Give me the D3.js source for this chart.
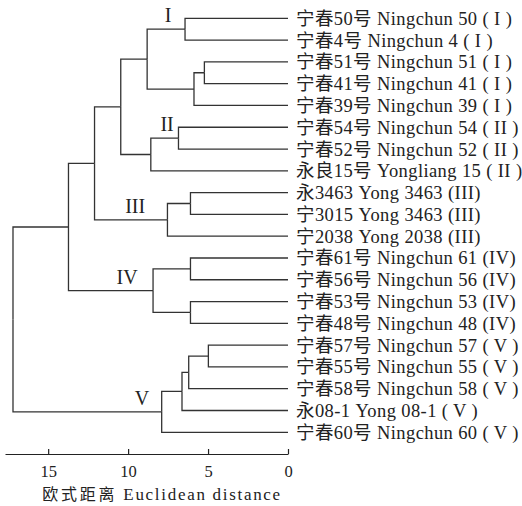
<!DOCTYPE html>
<html>
<head>
<meta charset="utf-8">
<script src="https://cdnjs.cloudflare.com/ajax/libs/d3/7.8.5/d3.min.js"></script>
<style>
  body { margin: 0; background: #fff; }
  text { font-family: "Liberation Serif", "Noto Sans CJK SC", serif; fill: #222; }
  .link { fill: none; stroke: #333; stroke-width: 1.3px; }
  .axis path, .axis line { stroke: #222; stroke-width: 1.2px; }
</style>
</head>
<body>
<div id="chart"></div>
<script>
// leaf labels, top to bottom
var leaves = [
  "宁春50号 Ningchun 50 ( I )",
  "宁春4号 Ningchun 4 ( I )",
  "宁春51号 Ningchun 51 ( I )",
  "宁春41号 Ningchun 41 ( I )",
  "宁春39号 Ningchun 39 ( I )",
  "宁春54号 Ningchun 54 ( II )",
  "宁春52号 Ningchun 52 ( II )",
  "永良15号 Yongliang 15 ( II )",
  "永3463 Yong 3463 (III)",
  "宁3015 Yong 3463 (III)",
  "宁2038 Yong 2038 (III)",
  "宁春61号 Ningchun 61 (IV)",
  "宁春56号 Ningchun 56 (IV)",
  "宁春53号 Ningchun 53 (IV)",
  "宁春48号 Ningchun 48 (IV)",
  "宁春57号 Ningchun 57 ( V )",
  "宁春55号 Ningchun 55 ( V )",
  "宁春58号 Ningchun 58 ( V )",
  "永08-1 Yong 08-1 ( V )",
  "宁春60号 Ningchun 60 ( V )"
];
// merges: [child a, child b, distance]; node ids 20.. follow in order
var merges = [
  [15, 16, 4.98],
  [2, 3, 5.23],
  [21, 4, 5.88],
  [8, 9, 6.1],
  [11, 12, 6.1],
  [13, 14, 6.1],
  [20, 17, 6.21],
  [0, 1, 6.44],
  [26, 18, 6.63],
  [5, 6, 6.85],
  [23, 10, 7.54],
  [28, 19, 7.9],
  [24, 25, 8.44],
  [29, 7, 8.58],
  [27, 22, 8.81],
  [34, 33, 10.46],
  [35, 30, 12.1],
  [36, 32, 13.73],
  [37, 31, 17.2]
];
// cluster names, the node each one marks, and the distance where it is written
var clusterNames = ["I", "II", "III", "IV", "V"];
var clusterNodes = [27, 29, 30, 32, 31];
var clusterDist = [7.5, 7.56, 9.56, 10.06, 9.14];
var tickVals = [15, 10, 5, 0];
var axisTitleZh = "欧式距离";
var axisTitleEn = "Euclidean distance";

var w = 522, h = 506;
var svg = d3.select("#chart").append("svg").attr("width", w).attr("height", h);

var x = d3.scaleLinear().domain([17.7, 0]).range([5, 288]);
var y = d3.scalePoint().domain(d3.range(leaves.length)).range([18.3, 432.3]);

// node positions
var nodes = leaves.map(function(d, i) { return { x: x(0), y: y(i) }; });
merges.forEach(function(m) {
  var a = nodes[m[0]], b = nodes[m[1]];
  nodes.push({ x: x(m[2]), y: (a.y + b.y) / 2, a: a, b: b });
});

// elbow links
merges.forEach(function(m, i) {
  var n = nodes[leaves.length + i];
  [n.a, n.b].forEach(function(c) {
    svg.append("path").attr("class", "link")
      .attr("d", "M" + c.x + "," + c.y + "H" + n.x + "V" + n.y);
  });
});

// leaf labels
svg.selectAll("text.leaf").data(leaves).enter().append("text")
  .attr("class", "leaf")
  .attr("x", x(0) + 8)
  .attr("y", function(d, i) { return y(i); })
  .attr("dy", "0.35em")
  .style("font-size", "18.5px")
  .style("letter-spacing", "0.4px")
  .text(function(d) { return d; });

// cluster labels
svg.selectAll("text.cl").data(clusterNames).enter().append("text")
  .attr("class", "cl")
  .attr("x", function(d, i) { return x(clusterDist[i]); })
  .attr("y", function(d, i) {
    var n = nodes[clusterNodes[i]];
    return n.y - 14;
  })
  .attr("text-anchor", "middle")
  .attr("dy", "0.35em")
  .style("font-size", "20px")
  .text(function(d) { return d; });

// axis
var axis = svg.append("g").attr("class", "axis")
  .attr("transform", "translate(0,454)")
  .call(d3.axisBottom(x).tickValues(tickVals).tickSizeInner(-5).tickSizeOuter(0).tickPadding(11));
axis.selectAll("text").style("font-size", "16.5px").style("font-family", "Liberation Serif").attr("fill", "#222");

var title = svg.append("text")
  .attr("x", 162).attr("y", 494)
  .attr("text-anchor", "middle")
  .attr("dy", "0.35em");
title.append("tspan").style("font-size", "16px").style("letter-spacing", "2.8px").text(axisTitleZh);
title.append("tspan").style("font-size", "17px").style("letter-spacing", "1.7px").text(" " + axisTitleEn);
</script>
</body>
</html>
